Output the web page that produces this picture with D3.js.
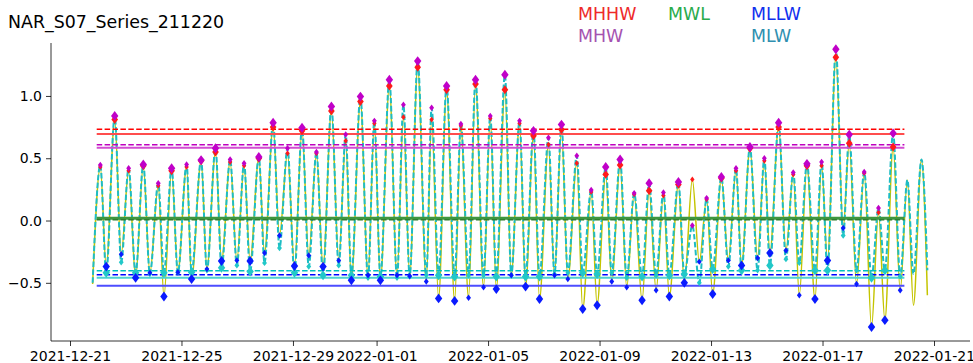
<meta charset="utf-8">
<title>NAR_S07_Series_211220</title>
<style>
  body { margin: 0; background: #fff; }
  svg { display: block; font-family: "DejaVu Sans", sans-serif; }
</style>
<body>
<script src="https://cdn.jsdelivr.net/npm/d3@7"></script>
<script>

var width = 973, height = 363;

// hours after 2021-12-21 00:00 (UTC) of each high / low turning point
var hiHours = [26.1, 38.5, 50.5, 63.1, 76.0, 87.5, 100.4, 112.9, 125.3, 137.9,
  149.9, 162.6, 174.9, 187.3, 199.8, 212.2, 225.1, 237.4, 250.1, 262.1,
  275.0, 287.1, 299.4, 311.4, 324.3, 336.6, 349.2, 361.9, 374.5, 387.1,
  399.1, 412.0, 423.2, 436.4, 448.8, 461.3, 473.7, 485.8, 498.7, 511.0,
  523.9, 535.9, 548.2, 560.9, 573.5, 585.5, 597.9, 610.2, 622.8, 634.6,
  647.2, 659.5, 671.0, 683.9, 696.2, 708.8, 721.1, 733.2];
var hiPred = [0.445, 0.84, 0.42, 0.45, 0.30, 0.42, 0.45, 0.485, 0.58, 0.49,
  0.46, 0.51, 0.785, 0.58, 0.745, 0.55, 0.915, 0.69, 0.995, 0.80,
  1.13, 0.93, 1.28, 0.905, 1.08, 0.775, 1.13, 0.84, 1.17, 0.80,
  0.72, 0.665, 0.77, 0.52, 0.245, 0.43, 0.49, 0.22, 0.30, 0.225,
  0.31, -0.04, 0.18, 0.35, 0.42, 0.59, 0.50, 0.785, 0.385, 0.455,
  0.47, 1.375, 0.69, 0.39, 0.10, 0.70, 0.325, 0.49];
var hiObs = [0.43, 0.81, 0.40, 0.44, 0.28, 0.40, 0.43, 0.48, 0.55, 0.47,
  0.44, 0.50, 0.75, 0.54, 0.72, 0.54, 0.88, 0.64, 0.955, 0.78,
  1.08, 0.83, 1.23, 0.81, 1.05, 0.76, 1.095, 0.82, 1.05, 0.78,
  0.68, 0.61, 0.73, 0.46, 0.23, 0.37, 0.445, 0.21, 0.24, 0.20,
  0.29, 0.33, 0.17, 0.34, 0.40, 0.58, 0.48, 0.75, 0.37, 0.44,
  0.44, 1.31, 0.62, 0.38, 0.065, 0.59, 0.325, 0.49];
// D = higher high marker, d = lower high marker, - = none
var hiMark = "dDdDdDdDDd" + "dDDdDdDdDd" + "DdDdDdDdDd" + "DdDddDDdDd" + "DddDdDdDdD" + "dDDddD--";

var loHours = [19.5, 31.2, 44.1, 56.5, 68.8, 80.9, 92.9, 104.7, 117.9, 130.5,
  143.7, 155.1, 167.5, 180.4, 193.3, 205.6, 217.9, 231.4, 242.3, 256.6,
  267.3, 281.6, 292.5, 306.8, 317.4, 331.2, 343.2, 356.1, 367.1, 380.0,
  392.3, 404.3, 417.2, 428.7, 441.5, 453.9, 466.5, 479.4, 492.6, 504.7,
  516.1, 529.0, 541.9, 553.4, 566.9, 578.3, 592.1, 602.7, 616.5, 628.0,
  641.5, 652.3, 665.8, 677.3, 690.2, 701.7, 714.9, 726.3, 738.3];
var loObs = [-0.51,
  -0.37, -0.27, -0.46, -0.42, -0.61, -0.415, -0.47, -0.39, -0.325, -0.32,
  -0.325, -0.26, -0.12, -0.365, -0.28, -0.37, -0.32, -0.48, -0.44, -0.48,
  -0.44, -0.445, -0.49, -0.625, -0.645, -0.62, -0.535, -0.55, -0.44, -0.53,
  -0.63, -0.44, -0.47, -0.71, -0.68, -0.49, -0.535, -0.64, -0.56, -0.61,
  -0.50, -0.33, -0.59, -0.32, -0.36, -0.30, -0.26, -0.24, -0.60, -0.63,
  -0.32, -0.06, -0.51, -0.855, -0.80, -0.56, -0.68,
  -0.60];
var loPred = [-0.50,
  -0.42, -0.335, -0.42, -0.43, -0.42, -0.42, -0.415, -0.40, -0.38, -0.36,
  -0.41, -0.34, -0.22, -0.42, -0.37, -0.44, -0.36, -0.44, -0.46, -0.45,
  -0.46, -0.45, -0.44, -0.44, -0.45, -0.44, -0.44, -0.45, -0.44, -0.45,
  -0.45, -0.43, -0.42, -0.42, -0.43, -0.42, -0.46, -0.45, -0.44, -0.44,
  -0.43, -0.50, -0.39, -0.37, -0.40, -0.40, -0.36, -0.31, -0.34, -0.40,
  -0.40, -0.12, -0.40, -0.46, -0.40, -0.45, -0.43,
  -0.40];
var loMark = "-" + "DdDdDdDdDd" + "DddDdDdDdD" + "dddDDddDdD" + "DddDDddDdD" + "DdDdDdDddD" + "DddDDd-" + "-";

// tidal datums: solid = observed, dashed = predicted
var datumNames = ["MHHW", "MHW", "MWL", "MLW", "MLLW"];
var datumObs = [0.694, 0.584, 0.018, -0.459, -0.523];
var datumPred = [0.732, 0.608, 0.006, -0.403, -0.435];
var datumFrom = "2021-12-21T23:00", datumTo = "2022-01-19T22:30";

var tickDates = ["2021-12-21", "2021-12-25", "2021-12-29", "2022-01-01", "2022-01-05",
  "2022-01-09", "2022-01-13", "2022-01-17", "2022-01-21"];
var yTicks = [-0.5, 0.0, 0.5, 1.0];

var title = "NAR_S07_Series_211220";

var solidCol = { MHHW: "#ff4d4d", MHW: "#d24dd2", MWL: "#3f963f", MLW: "#4dd2d2", MLLW: "#4d4dff" };
var dashCol = { MHHW: "#ff0000", MHW: "#bf00bf", MWL: "#2e7d2e", MLW: "#00bfbf", MLLW: "#0000ff" };
var labelCol = { MHHW: "#ee2a2a", MHW: "#a552b0", MWL: "#2aab4c", MLW: "#2f8fb0", MLLW: "#0f30ee" };
var labelPos = { MHHW: [578, 20], MWL: [668, 20], MLLW: [751, 20], MHW: [578, 42], MLW: [751, 42] };

var parseDay = d3.utcParse("%Y-%m-%d");
var parseHour = d3.utcParse("%Y-%m-%dT%H:%M");
var base = parseDay("2021-12-21");
var at = function(h) { return new Date(+base + h * 3600e3); };

var pL = 51, pR = 970, pT = 43, pB = 341;

// x: 2021-12-21 sits at 70px, 2022-01-21 at 934px
var x0 = d3.scaleUtc().domain([parseDay("2021-12-21"), parseDay("2022-01-21")]).range([70, 934]);
var x = d3.scaleUtc().domain([x0.invert(pL), x0.invert(pR)]).range([pL, pR]);
var y = d3.scaleLinear().domain([-0.967, 1.425]).range([pB, pT]);

var svg = d3.select("body").append("svg")
  .attr("width", width).attr("height", height);

// build the turning point sequences
var obs = [], pred = [];
loHours.forEach(function(h, i) {
  obs.push({ t: at(h), v: loObs[i] });
  pred.push({ t: at(h), v: loPred[i] });
  if (i < hiHours.length) {
    obs.push({ t: at(hiHours[i]), v: hiObs[i] });
    pred.push({ t: at(hiHours[i]), v: hiPred[i] });
  }
});

var line = d3.line()
  .x(function(d) { return x(d.t); })
  .y(function(d) { return y(d.v); })
  .curve(d3.curveMonotoneX);

svg.append("path").datum(obs)
  .attr("d", line).attr("fill", "none")
  .attr("stroke", "#c4c400").attr("stroke-width", 1.5);

svg.append("path").datum(pred)
  .attr("d", line).attr("fill", "none")
  .attr("stroke", "#1ebcc4").attr("stroke-width", 2)
  .attr("stroke-dasharray", "5.5,2.4");

// datum lines
var dg = svg.append("g");
datumNames.forEach(function(n, i) {
  dg.append("line")
    .attr("x1", x(parseHour(datumFrom))).attr("x2", x(parseHour(datumTo)))
    .attr("y1", y(datumObs[i])).attr("y2", y(datumObs[i]))
    .attr("stroke", solidCol[n]).attr("stroke-width", n == "MWL" ? 3 : 2);
  dg.append("line")
    .attr("x1", x(parseHour(datumFrom))).attr("x2", x(parseHour(datumTo)))
    .attr("y1", y(datumPred[i])).attr("y2", y(datumPred[i]))
    .attr("stroke", dashCol[n]).attr("stroke-width", 1.5)
    .attr("stroke-dasharray", "5.5,2.4");
});

// markers
var big = d3.symbol().type(d3.symbolDiamond).size(28)();
var small = d3.symbol().type(d3.symbolDiamond).size(12)();
var mk = svg.append("g");

function marks(hours, vals, kinds, color, scale) {
  hours.forEach(function(h, i) {
    var k = kinds[i];
    if (k == "-") return;
    mk.append("path")
      .attr("d", k == "D" ? big : small)
      .attr("transform", "translate(" + x(at(h)) + "," + y(vals[i]) + ") scale(" + (1.3 * scale) + "," + scale + ")")
      .attr("fill", color);
  });
}
marks(loHours, loPred, loMark, "#22c8c8", 1);
marks(loHours, loObs, loMark, "#0a1aff", 1);
marks(hiHours, hiObs, hiMark, "#ff1a1a", 0.9);
marks(hiHours, hiPred, hiMark, "#c000c8", 1);

// axes
var xAxis = d3.axisBottom(x)
  .tickValues(tickDates.map(parseDay))
  .tickFormat(d3.utcFormat("%Y-%m-%d"))
  .tickSize(5).tickPadding(5);
var gx = svg.append("g").attr("transform", "translate(0," + pB + ")").call(xAxis);

var yAxis = d3.axisLeft(y)
  .tickValues(yTicks)
  .tickFormat(d3.format(".1f"))
  .tickSize(5).tickPadding(4);
var gy = svg.append("g").attr("transform", "translate(" + pL + ",0)").call(yAxis);

[gx, gy].forEach(function(g) {
  g.select(".domain").remove();
  g.selectAll("text").attr("font-size", 14).attr("font-family", "DejaVu Sans").attr("fill", "#000");
  g.selectAll("line").attr("stroke", "#000").attr("stroke-width", 0.8);
});

svg.append("line").attr("x1", pL).attr("x2", pL).attr("y1", pT).attr("y2", pB)
  .attr("stroke", "#000").attr("stroke-width", 0.8);
svg.append("line").attr("x1", pL).attr("x2", pR).attr("y1", pB).attr("y2", pB)
  .attr("stroke", "#000").attr("stroke-width", 0.8);

// title and datum labels
svg.append("text").attr("x", 8).attr("y", 28)
  .attr("font-size", 17.4).text(title);

datumNames.forEach(function(n) {
  svg.append("text")
    .attr("x", labelPos[n][0]).attr("y", labelPos[n][1])
    .attr("font-size", 17.4).attr("fill", labelCol[n])
    .text(n);
});

</script>
